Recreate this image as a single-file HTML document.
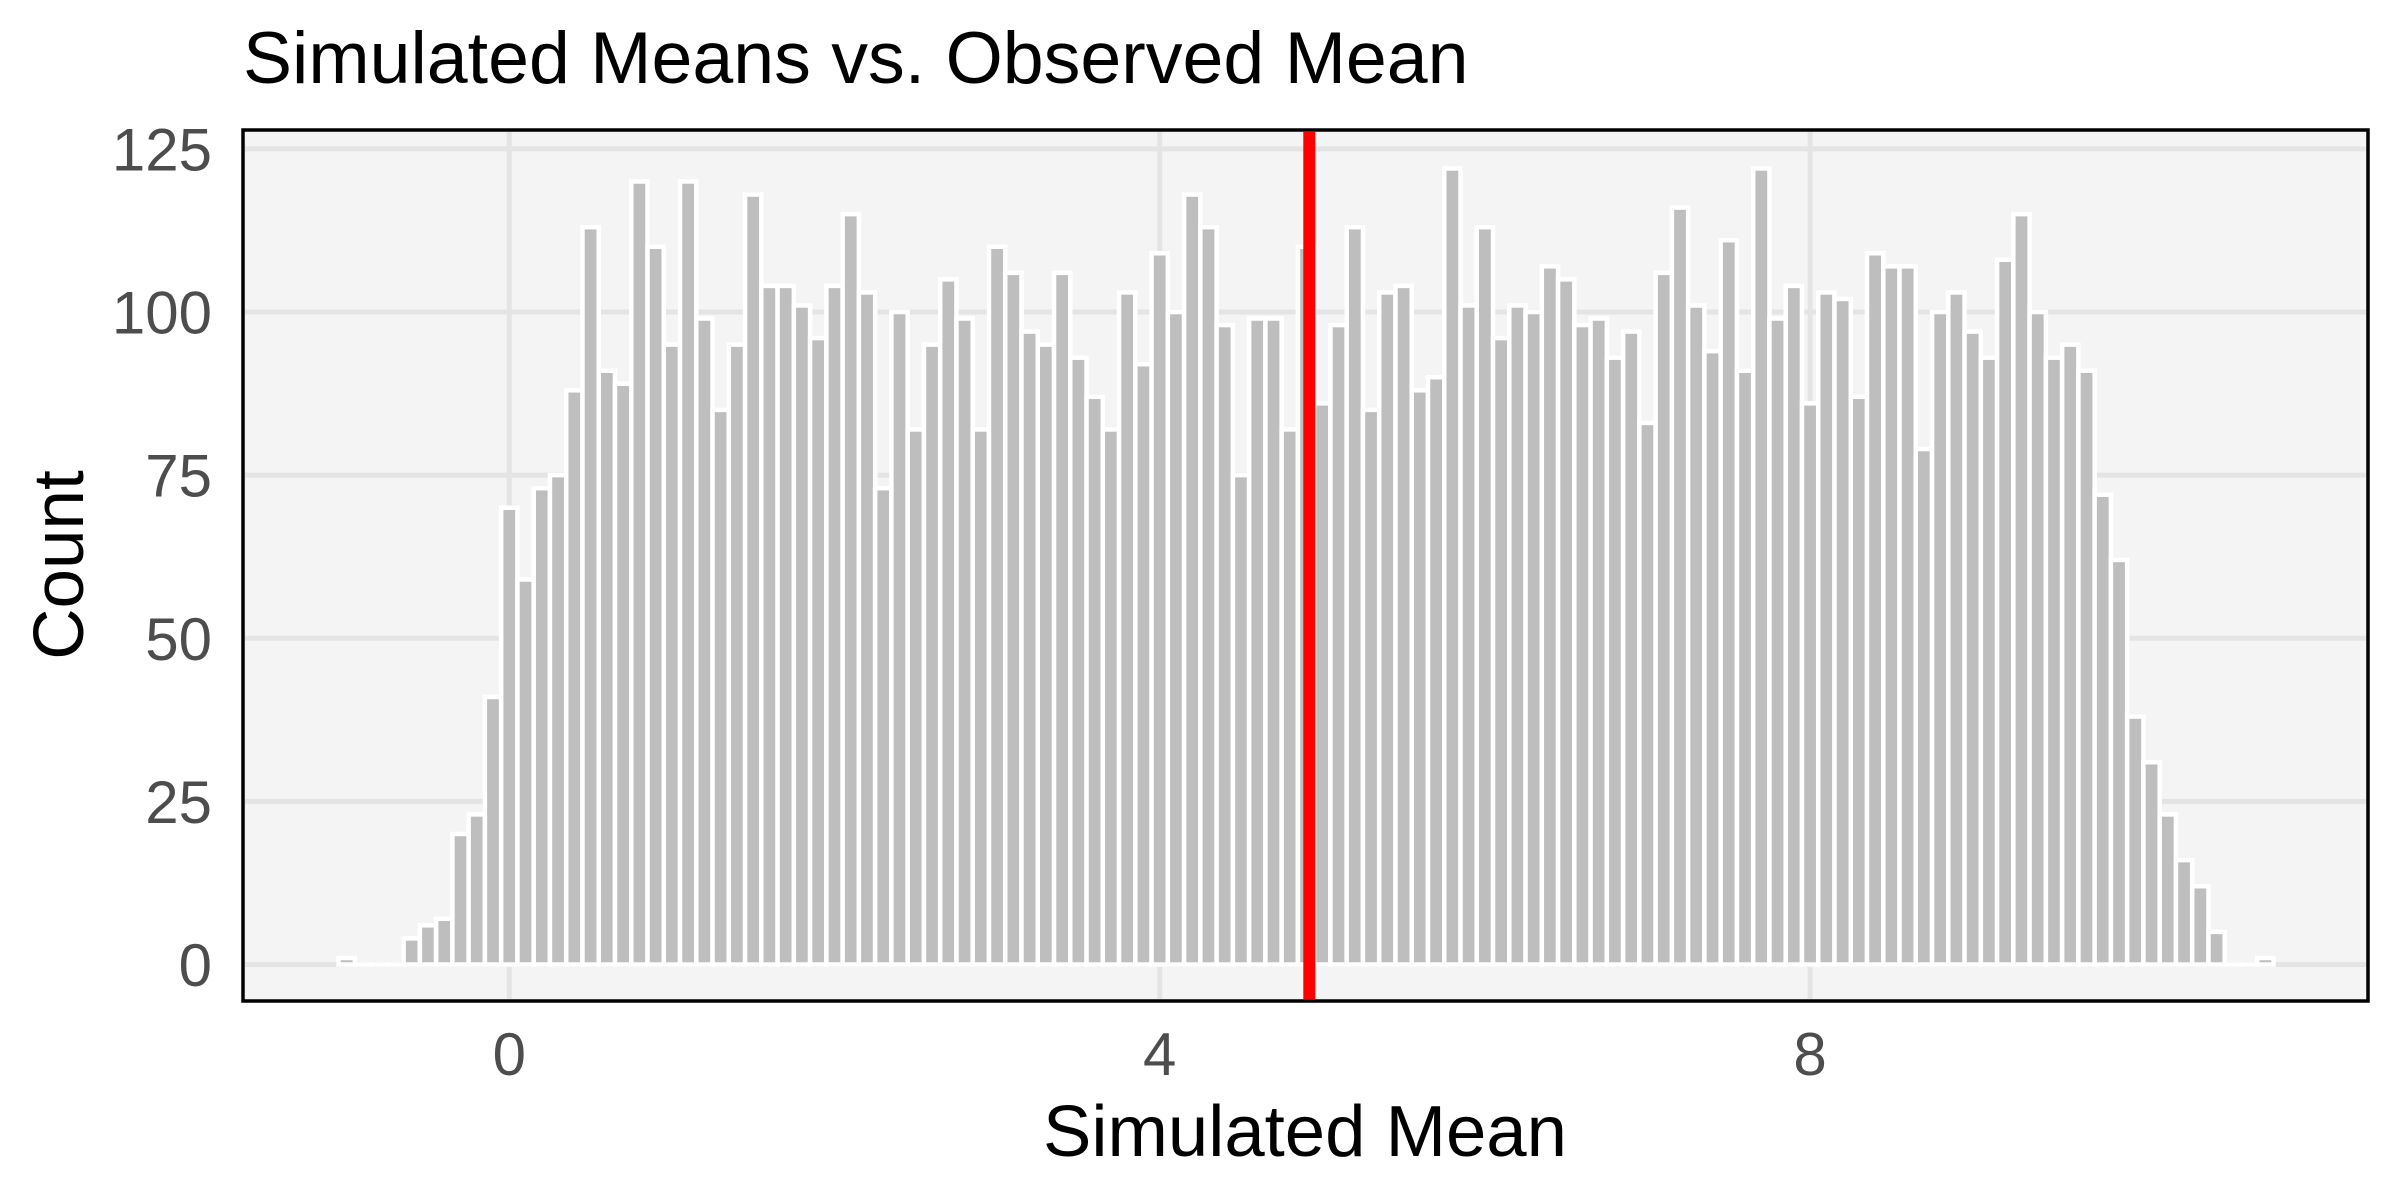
<!DOCTYPE html>
<html><head><meta charset="utf-8"><style>
html,body{margin:0;padding:0;background:#fff;}
svg{display:block;font-family:"Liberation Sans",Arial,sans-serif;}
</style></head><body>
<svg id="chart" width="2400" height="1200" viewBox="0 0 2400 1200" xmlns="http://www.w3.org/2000/svg">
<rect x="0" y="0" width="2400" height="1200" fill="#ffffff"/>
<text x="243" y="83" font-size="73.5" fill="#000">Simulated Means vs. Observed Mean</text>
<rect x="243" y="130" width="2125" height="871" fill="#f4f4f4"/>
<g id="grid"></g>
<g id="bars"></g>
<g id="refline"></g>
<rect x="243" y="130" width="2125" height="871" fill="none" stroke="#000" stroke-width="3.5"/>
<g id="yticks"></g>
<g id="xticks"></g>
<text x="1305" y="1156" font-size="72.5" text-anchor="middle" fill="#000">Simulated Mean</text>
<text x="0" y="0" font-size="71" text-anchor="middle" fill="#000" transform="translate(83,565) rotate(-90)">Count</text>
</svg>
<script>
const binCenters = [];
for (let i = 0; i <= 118; i++) binCenters.push(Math.round((-1.0 + i * 0.1) * 10) / 10);
const counts = [
1,0,0,0,4,6,7,20,23,41,70,59,73,75,88,113,91,89,120,110,95,120,99,85,95,118,104,104,101,96,104,115,
103,73,100,82,95,105,99,82,110,106,97,95,106,93,87,82,103,92,109,100,118,113,98,75,99,99,82,110,86,98,113,85,103,104,
88,90,122,101,113,96,101,100,107,105,98,99,93,97,83,106,116,101,94,111,91,122,99,104,86,103,102,87,109,107,107,79,100,
103,97,93,108,115,100,93,95,91,72,62,38,31,23,16,12,5,0,0,1
];
const binWidth = [0.1];
const observedMean = [4.92];
const yTickValues = [0,25,50,75,100,125];
const yTickLabels = ["0","25","50","75","100","125"];
const xTickValues = [0,4,8];
const xTickLabels = ["0","4","8"];

const NS = "http://www.w3.org/2000/svg";
function xs(v){ return 509.3 + 162.6 * v; }
function ys(v){ return 964.5 - 6.525 * v; }
function mk(tag, attrs, parent){
  const el = document.createElementNS(NS, tag);
  for (const k in attrs) el.setAttribute(k, attrs[k]);
  parent.appendChild(el);
  return el;
}
const grid = document.getElementById('grid');
yTickValues.forEach(v => {
  const l = mk('line', {x1:245, x2:2366, y1:ys(v), y2:ys(v), stroke:'#e4e4e4', 'stroke-width':5}, grid);
  
  
});
xTickValues.forEach(v => {
  const l = mk('line', {x1:xs(v), x2:xs(v), y1:132, y2:999, stroke:'#e4e4e4', 'stroke-width':5}, grid);
  
  
});
const bars = document.getElementById('bars');
counts.forEach((c, i) => {
  const x0 = xs(binCenters[i] - binWidth[0] / 2), x1 = xs(binCenters[i] + binWidth[0] / 2);
  const r = mk('rect', {x:x0, y:ys(c), width:x1 - x0, height:Math.max(ys(0) - ys(c), 0.01), fill:'#bebebe', stroke:'#ffffff', 'stroke-width':4.5}, bars);
  
  
});
const ref = document.getElementById('refline');
const rl = mk('line', {x1:xs(observedMean[0]), x2:xs(observedMean[0]), y1:132, y2:999, stroke:'#ff0000', 'stroke-width':12}, ref);


const yt = document.getElementById('yticks');
yTickValues.forEach((v, i) => {
  const t = mk('text', {x:212, y:ys(v) + 21.5, 'font-size':60, 'text-anchor':'end', fill:'#4d4d4d'}, yt);
  t.textContent = yTickLabels[i];
  
  
});
const xt = document.getElementById('xticks');
xTickValues.forEach((v, i) => {
  const t = mk('text', {x:xs(v), y:1075, 'font-size':60, 'text-anchor':'middle', fill:'#4d4d4d'}, xt);
  t.textContent = xTickLabels[i];
  
  
});
</script>
</body></html>
